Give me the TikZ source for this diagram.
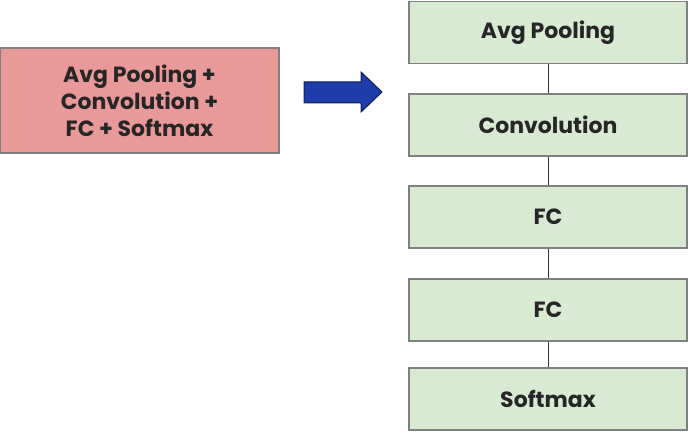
\documentclass[tikz,border=0pt]{standalone}
\usepackage{fontspec}
\setmainfont{Poppins}
\definecolor{redfill}{RGB}{234,153,153}
\definecolor{greenfill}{RGB}{217,234,211}
\definecolor{boxline}{RGB}{128,128,128}
\definecolor{arrowfill}{RGB}{30,60,170}
\definecolor{arrowline}{RGB}{20,30,80}
\tikzset{
  layer/.style={draw=boxline, line width=1.2pt, fill=greenfill, minimum width=278pt,
    minimum height=62pt, font=\fontsize{22}{27}\selectfont\bfseries, text=black!85},
  block/.style={draw=boxline, line width=1.2pt, fill=redfill, minimum width=279pt,
    minimum height=105pt, align=center, font=\fontsize{22}{27}\selectfont\bfseries, text=black!85}
}
\begin{document}
\begin{tikzpicture}[x=1pt,y=1pt]
    \useasboundingbox (0,0) rectangle (688,432);
    \node[block] (head) at (139.5,331.5) {Avg Pooling +\\Convolution +\\FC + Softmax};
    % the big arrow
    \draw[arrowline, fill=arrowfill, line width=1pt] (304,350) -- (361,350) -- (361,360)
      -- (382,340) -- (361,320) -- (361,329) -- (304,329) -- cycle;
    \node[layer] (pool) at (548,399.5) {Avg Pooling};
    \node[layer] (conv) at (548,307) {Convolution};
    \node[layer] (fca) at (548,215) {FC};
    \node[layer] (fcb) at (548,122) {FC};
    \node[layer] (soft) at (548,33) {Softmax};
    \foreach \a/\b in {pool/conv, conv/fca, fca/fcb, fcb/soft} {
      \draw[black!80, line width=1pt] (\a) -- (\b);
    }
\end{tikzpicture}
\end{document}
